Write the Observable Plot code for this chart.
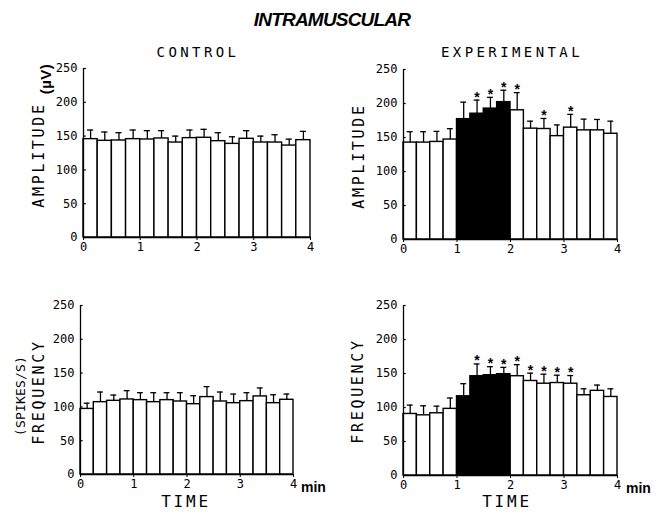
<!DOCTYPE html>
<html><head><meta charset="utf-8">
<script src="https://cdn.jsdelivr.net/npm/d3@7"></script>
<script src="https://cdn.jsdelivr.net/npm/@observablehq/plot@0.6"></script>
<style>
body{margin:0;background:#fff;}
#root{position:relative;width:662px;height:513px;overflow:hidden;font-family:"DejaVu Sans Mono",monospace;color:#000;background:#fff}
.abs{position:absolute;white-space:nowrap;line-height:1;transform:translate(-50%,-50%)}
.vert{transform:translate(-50%,-50%) rotate(-90deg)}
.panel{position:absolute}
.lbl{font-size:15px;letter-spacing:2.7px}
.ttl{font-size:14px;letter-spacing:3.4px}
.min{position:absolute;font-family:"Liberation Sans",Arial,sans-serif;font-weight:bold;font-size:14px;line-height:1}
</style></head><body><div id="root"></div>
<script>
// 15-s bins (start time, min)
const binStart = [0, 0.25, 0.5, 0.75, 1, 1.25, 1.5, 1.75, 2, 2.25, 2.5, 2.75, 3, 3.25, 3.5, 3.75];
const xTicks = [0, 1, 2, 3, 4];
const yTicks = [0, 50, 100, 150, 200, 250];

// Amplitude (µV), control
const ampCtrl    = [145.5, 143, 143.5, 145.5, 145, 146.5, 140.5, 147, 147.5, 142.5, 138.5, 146, 140.5, 140.5, 136, 144];
const ampCtrlErr = [159, 156, 155, 159, 158, 158, 150, 159, 160, 155, 149, 158, 150, 152, 145.5, 157];
// Amplitude (µV), experimental
const ampExp     = [142.5, 142.5, 143.5, 147, 177, 185, 192.5, 202, 190, 163, 162.5, 152, 164.5, 160.5, 160.5, 155.5];
const ampExpErr  = [158.5, 158.5, 159, 163, 202, 205, 209, 219.5, 216, 174, 178, 168.5, 184, 177, 176.5, 174];
const ampExpSig  = [1.25, 1.5, 1.75, 2, 2.5, 3];

// Frequency (spikes/s), control
const frqCtrl    = [97, 107, 109, 111, 110, 107, 110, 108, 104, 114.5, 108, 105.5, 108.5, 115.5, 105.5, 110.5];
const frqCtrlErr = [105.5, 122, 117.5, 124, 121, 121, 121, 121, 116.5, 130, 122, 119, 121, 128, 118, 119];
// Frequency (spikes/s), experimental
const frqExp     = [90.5, 88.5, 91.5, 98, 116.5, 146, 147.5, 149, 146, 139, 135, 136, 135, 118, 124.5, 115.5];
const frqExpErr  = [103.5, 102.5, 102, 114, 135, 164, 160, 159, 163, 150.5, 149, 147.5, 147, 127.5, 133, 127.5];
const frqExpSig  = [1.25, 1.5, 1.75, 2, 2.25, 2.5, 2.75, 3];

// stimulation period (filled bars)
const stimBins = [1, 1.25, 1.5, 1.75];

const root = document.getElementById("root");

function addText(txt, cls, x, y, style) {
  const el = document.createElement("div");
  el.className = "abs " + cls;
  el.textContent = txt;
  el.style.left = x + "px";
  el.style.top = y + "px";
  if (style) Object.assign(el.style, style);
  root.appendChild(el);
}

function panel(vals, errs, sig, stim, pos) {
  const bw = 0.25, half = 0.125, cap = 0.055;
  const data = binStart.map((t, i) => ({t, v: vals[i], e: errs[i], sig: sig.includes(t), stim: stim.includes(t)}));
  const chart = Plot.plot({
    width: pos.w, height: pos.h,
    marginLeft: pos.ml, marginRight: pos.mr, marginTop: pos.mt, marginBottom: pos.mb,
    x: {domain: [0, 4], label: null},
    y: {domain: [0, 250], label: null},
    style: {fontFamily: "DejaVu Sans Mono, monospace", fontSize: "12px", color: "#000", background: "transparent", overflow: "visible"},
    marks: [
      Plot.ruleX(data, {x: d => d.t + half, y1: "v", y2: "e", stroke: "#000", strokeWidth: 1.3}),
      Plot.ruleY(data, {y: "e", x1: d => d.t + half - cap, x2: d => d.t + half + cap, stroke: "#000", strokeWidth: 1.3}),
      Plot.rectY(data.filter(d => !d.stim), {x1: "t", x2: d => d.t + bw, y1: 0, y2: "v", fill: "#fff", stroke: "#000", strokeWidth: 1.4}),
      Plot.rectY(data.filter(d => d.stim), {x1: "t", x2: d => d.t + bw, y1: 0, y2: "v", fill: "#000", stroke: "#000", strokeWidth: 1.4}),
      Plot.text(data.filter(d => d.sig), {x: d => d.t + half, y: "e", text: () => "*", dy: -3, fontSize: 14, fontWeight: "bold", fontFamily: "Liberation Sans, Arial, sans-serif"}),
      Plot.ruleX([0], {y1: 0, y2: 250, stroke: "#000", strokeWidth: 1.3}),
      Plot.ruleY([0], {x1: 0, x2: 4, stroke: "#000", strokeWidth: 1.3}),
      Plot.ruleY(yTicks, {y: d => d, x1: 0, x2: 0.05, stroke: "#000", strokeWidth: 1.2}),
      Plot.axisY({ticks: yTicks, tickSize: 0, tickPadding: 6, tickFormat: d => String(d)}),
      Plot.axisX({ticks: xTicks, tickSize: 3, tickPadding: 2, tickFormat: d => String(d)})
    ]
  });
  chart.classList.add("panel");
  chart.style.left = pos.x + "px";
  chart.style.top = pos.y + "px";
  root.appendChild(chart);
}

panel(ampCtrl, ampCtrlErr, [], [], {x: 0, y: 40, w: 330, h: 225, ml: 83, mr: 20, mt: 28, mb: 28});
panel(ampExp, ampExpErr, ampExpSig, stimBins, {x: 330, y: 40, w: 332, h: 225, ml: 73, mr: 45, mt: 29, mb: 26});
panel(frqCtrl, frqCtrlErr, [], [], {x: 0, y: 265, w: 330, h: 248, ml: 80, mr: 37, mt: 40, mb: 39});
panel(frqExp, frqExpErr, frqExpSig, stimBins, {x: 330, y: 265, w: 332, h: 248, ml: 73, mr: 45, mt: 40, mb: 38});

// titles and labels
addText("INTRAMUSCULAR", "", 332, 19, {fontFamily: "Liberation Sans, Arial, sans-serif", fontWeight: "bold", fontStyle: "italic", fontSize: "19px", letterSpacing: "-0.8px"});
addText("CONTROL", "ttl", 198, 52);
addText("EXPERIMENTAL", "ttl", 512, 52);
addText("AMPLITUDE", "lbl vert", 39, 155);
addText("(µV)", "vert", 45, 79, {fontFamily: "Liberation Sans, Arial, sans-serif", fontWeight: "bold", fontSize: "15px", letterSpacing: "0.5px"});
addText("AMPLITUDE", "lbl vert", 359, 156);
addText("FREQUENCY", "lbl vert", 39, 392);
addText("(SPIKES/S)", "vert", 20, 396, {fontSize: "13px", letterSpacing: "0.2px"});
addText("FREQUENCY", "lbl vert", 358, 391);
addText("TIME", "lbl", 186, 502, {fontSize: "16px", letterSpacing: "2.8px"});
addText("TIME", "lbl", 507, 502, {fontSize: "16px", letterSpacing: "2.8px"});
for (const [x, y] of [[301, 480], [626, 481]]) {
  const m = document.createElement("div");
  m.className = "min";
  m.textContent = "min";
  m.style.left = x + "px";
  m.style.top = y + "px";
  root.appendChild(m);
}
</script>
</body></html>
